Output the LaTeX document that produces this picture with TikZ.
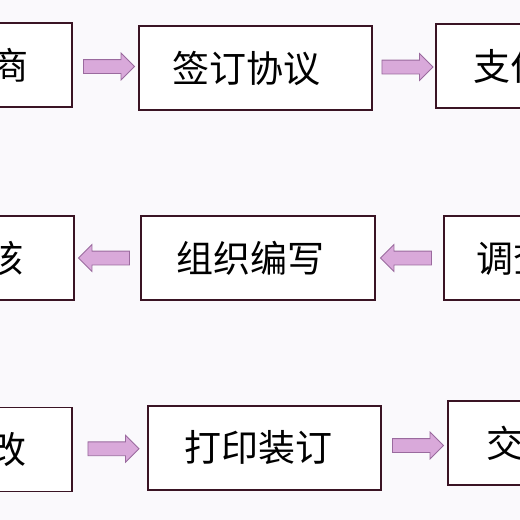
\documentclass[tikz,border=0pt]{standalone}
\usepackage{fontspec}
\newfontfamily\cjk{Noto Sans CJK SC}
\usetikzlibrary{shapes.arrows,calc}
\definecolor{bg}{HTML}{FAF9FC}
\definecolor{edge}{HTML}{3A1424}
\definecolor{afill}{HTML}{D9A9DA}
\definecolor{aedge}{HTML}{9A6A9E}
\begin{document}
\begin{tikzpicture}[x=1pt,y=-1pt,
  box/.style={draw=edge,line width=1.8pt,fill=white,minimum height=84pt,inner sep=0pt,
    font=\cjk\fontsize{37}{37}\selectfont},
  barrow/.style={single arrow,draw=aedge,fill=afill,line width=0.8pt,minimum height=51pt,
    inner sep=6.5pt,single arrow head extend=6.5pt},
  barrowl/.style={barrow,shape border rotate=180}
]
\useasboundingbox (0,0) rectangle (520,520);
\fill[bg] (0,0) rectangle (520,520);
% row 1
\node[box,minimum width=124pt] (L1) at (10,65) {商};
\node[box,minimum width=233pt] (M1) at (255.5,68) {\hspace*{-18pt}签订协议};
\node[box,minimum width=148pt] (R1) at (510,66) {支付};
% row 2
\node[box,minimum width=138pt] (L2) at (5,258) {核};
\node[box,minimum width=234pt] (M2) at (258,258) {\hspace*{-16pt}组织编写};
\node[box,minimum width=138pt] (R2) at (513,258) {调查};
% row 3
\node[box,minimum width=128pt] (L3) at (8,449.5) {改};
\node[box,minimum width=233pt] (M3) at (264.5,448) {\hspace*{-12pt}打印装订};
\node[box,minimum width=150pt] (R3) at (523,443) {交付};
% arrows
\node[barrow] (A1) at ($(L1.east)!0.5!(M1.west)$) {};
\node[barrow] (A2) at ($(M1.east)!0.5!(R1.west)$) {};
\node[barrowl] (A3) at ($(L2.east)!0.5!(M2.west)$) {};
\node[barrowl] (A4) at ($(M2.east)!0.5!(R2.west)$) {};
\node[barrow] (A5) at ($(L3.east)!0.5!(M3.west)$) {};
\node[barrow] (A6) at ($(M3.east)!0.5!(R3.west)$) {};
\end{tikzpicture}
\end{document}
